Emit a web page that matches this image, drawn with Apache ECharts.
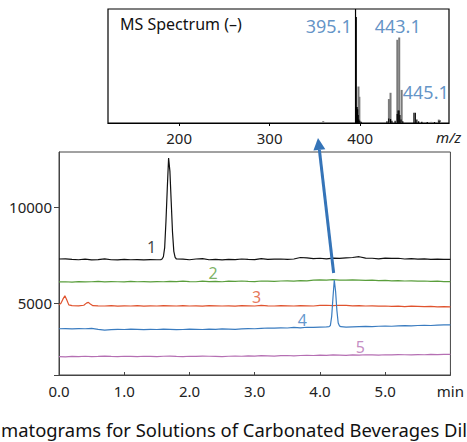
<!DOCTYPE html>
<html><head><meta charset="utf-8">
<script src="https://cdn.jsdelivr.net/npm/echarts@6/dist/echarts.min.js"></script>
<style>html,body{margin:0;padding:0;background:#fff}#c{width:467px;height:442px}</style>
</head><body><div id="c"></div>
<script>
const FONT = '"Noto Sans", sans-serif';

// ---- MS spectrum (inset) ----
const mzTicks = [200, 300, 400];
const msGray = [[200,0.8],[300,0.8],[358.7,1.6],[397.6,32],[398.6,23],[431.2,21],[433.0,26.5],[440.5,73],[442.6,75],[445.3,29],[478,1],[486.3,3],[487.6,2.5]];
const msBlack = [[394.8,100],[395.6,93],[396.0,14],[396.5,14],[397.1,12],[397.7,7],[398.4,3],[399.5,2],[401,1.2],[429.5,1.5],[431.5,4],[433.5,3.5],[435,2],[438.5,2],[440.8,8],[441.8,11],[442.8,11],[443.8,7],[445,3],[447,1.5],[459.3,9],[460.8,9],[462.5,3],[464.5,1.5],[468,1],[474,0.8],[482,0.8],[487,2]];
const msPeakLabels = [
  {mz: 391.1, val: 85.5, text: '395.1', side: 'left'},
  {mz: 415.4, val: 85.5, text: '443.1', side: 'right'},
  {mz: 446.4, val: 27, text: '445.1', side: 'right'}
];

// ---- Chromatograms (main) ----
const timeTicks = [0, 1, 2, 3, 4, 5, 6];
const yTickValues = [5000, 10000];
const trace1 = [[0,7300],[0.1,7310],[0.2,7280],[0.3,7260],[0.4,7290],[0.5,7250],[0.6,7270],[0.7,7310],[0.8,7260],[0.9,7250],[1.0,7280],[1.1,7260],[1.2,7270],[1.3,7250],[1.4,7270],[1.5,7260],[1.56,7270],[1.58,7300],[1.6,7420],[1.62,7900],[1.64,9300],[1.66,11000],[1.68,12580],[1.70,11900],[1.72,10300],[1.74,8700],[1.76,7700],[1.78,7380],[1.8,7300],[1.9,7290],[2.0,7260],[2.1,7300],[2.2,7320],[2.3,7260],[2.4,7280],[2.5,7250],[2.6,7280],[2.7,7270],[2.8,7300],[2.9,7280],[3.0,7270],[3.1,7320],[3.2,7280],[3.3,7290],[3.4,7300],[3.5,7280],[3.6,7300],[3.7,7380],[3.8,7360],[3.9,7320],[4.0,7340],[4.1,7310],[4.2,7350],[4.3,7330],[4.4,7360],[4.5,7380],[4.6,7420],[4.7,7350],[4.8,7340],[4.9,7310],[5.0,7350],[5.1,7330],[5.2,7340],[5.3,7300],[5.4,7320],[5.5,7290],[5.6,7310],[5.7,7280],[5.8,7290],[5.9,7280],[6.0,7280]];
const trace2 = [[0,6100],[0.1,6110],[0.2,6090],[0.3,6120],[0.4,6100],[0.5,6110],[0.6,6130],[0.7,6100],[0.8,6120],[0.9,6110],[1.0,6100],[1.1,6130],[1.2,6110],[1.3,6120],[1.4,6100],[1.5,6120],[1.6,6110],[1.7,6130],[1.8,6120],[1.9,6140],[2.0,6120],[2.1,6110],[2.2,6140],[2.3,6120],[2.4,6130],[2.5,6110],[2.6,6140],[2.7,6130],[2.8,6150],[2.9,6130],[3.0,6120],[3.1,6150],[3.2,6140],[3.3,6130],[3.4,6150],[3.5,6160],[3.6,6140],[3.7,6170],[3.8,6160],[3.9,6190],[4.0,6210],[4.1,6200],[4.2,6220],[4.3,6200],[4.4,6190],[4.5,6210],[4.6,6200],[4.7,6180],[4.8,6190],[4.9,6170],[5.0,6180],[5.1,6160],[5.2,6170],[5.3,6150],[5.4,6160],[5.5,6140],[5.6,6150],[5.7,6130],[5.8,6140],[5.9,6120],[6.0,6120]];
const trace3 = [[0,4900],[0.03,4980],[0.06,5200],[0.09,5380],[0.12,5150],[0.15,4900],[0.2,4860],[0.3,4850],[0.38,4880],[0.42,4990],[0.45,5030],[0.48,4950],[0.52,4860],[0.6,4850],[0.7,4840],[0.8,4860],[0.9,4830],[1.0,4850],[1.1,4840],[1.2,4860],[1.3,4830],[1.4,4850],[1.5,4840],[1.6,4860],[1.7,4850],[1.8,4840],[1.9,4860],[2.0,4840],[2.1,4850],[2.2,4830],[2.3,4860],[2.4,4850],[2.5,4840],[2.6,4850],[2.7,4830],[2.8,4860],[2.9,4850],[3.0,4840],[3.1,4870],[3.2,4850],[3.3,4840],[3.4,4860],[3.5,4850],[3.6,4840],[3.7,4860],[3.8,4850],[3.9,4840],[4.0,4870],[4.1,4880],[4.2,4860],[4.3,4880],[4.4,4870],[4.5,4850],[4.6,4860],[4.7,4840],[4.8,4850],[4.9,4830],[5.0,4840],[5.1,4820],[5.2,4830],[5.3,4810],[5.4,4830],[5.5,4820],[5.6,4810],[5.7,4820],[5.8,4800],[5.9,4810],[6.0,4800]];
const trace4 = [[0,3650],[0.1,3660],[0.2,3640],[0.3,3660],[0.4,3650],[0.5,3670],[0.6,3620],[0.7,3580],[0.8,3600],[0.9,3620],[1.0,3610],[1.1,3630],[1.2,3620],[1.3,3600],[1.4,3620],[1.5,3610],[1.6,3630],[1.7,3620],[1.8,3600],[1.9,3610],[2.0,3630],[2.1,3620],[2.2,3610],[2.3,3630],[2.4,3620],[2.5,3640],[2.6,3630],[2.7,3620],[2.8,3640],[2.9,3660],[3.0,3650],[3.1,3670],[3.2,3690],[3.3,3680],[3.4,3700],[3.5,3690],[3.6,3720],[3.7,3700],[3.8,3730],[3.9,3720],[4.0,3740],[4.1,3750],[4.14,3760],[4.16,3820],[4.18,4300],[4.2,5300],[4.22,6200],[4.24,5600],[4.26,4600],[4.28,3950],[4.3,3800],[4.32,3760],[4.4,3740],[4.5,3750],[4.6,3760],[4.7,3770],[4.8,3760],[4.9,3780],[5.0,3790],[5.1,3780],[5.2,3800],[5.3,3810],[5.4,3800],[5.5,3820],[5.6,3830],[5.7,3820],[5.8,3840],[5.9,3850],[6.0,3850]];
const trace5 = [[0,2190],[0.1,2180],[0.2,2200],[0.3,2190],[0.4,2210],[0.5,2190],[0.6,2200],[0.7,2220],[0.8,2200],[0.9,2190],[1.0,2210],[1.1,2200],[1.2,2190],[1.3,2210],[1.4,2200],[1.5,2190],[1.6,2210],[1.7,2220],[1.8,2200],[1.9,2190],[2.0,2210],[2.1,2200],[2.2,2220],[2.3,2210],[2.4,2200],[2.5,2190],[2.6,2210],[2.7,2220],[2.8,2210],[2.9,2230],[3.0,2220],[3.1,2240],[3.2,2230],[3.3,2220],[3.4,2240],[3.5,2250],[3.6,2230],[3.7,2250],[3.8,2260],[3.9,2250],[4.0,2270],[4.1,2260],[4.2,2280],[4.3,2270],[4.4,2260],[4.5,2280],[4.6,2270],[4.7,2290],[4.8,2280],[4.9,2270],[5.0,2290],[5.1,2280],[5.2,2300],[5.3,2290],[5.4,2280],[5.5,2300],[5.6,2290],[5.7,2310],[5.8,2300],[5.9,2310],[6.0,2310]];
const traceNames = ['1', '2', '3', '4', '5'];
const traceColors = ['#111111', '#5a9e3c', '#e0532e', '#3a7cc0', '#b56fb3'];
const traceLabelPos = [[1.42, 7930], [2.36, 6570], [3.03, 5310], [3.73, 4110], [4.62, 2690]];
const caption = 'matograms for Solutions of Carbonated Beverages Dil';

const traces = [trace1, trace2, trace3, trace4, trace5];
const chart = echarts.init(document.getElementById('c'), null, {renderer: 'svg'});

const lineSeries = traces.map((d, i) => ({
  type: 'line', xAxisIndex: 1, yAxisIndex: 1, data: d, showSymbol: false, symbol: 'none',
  lineStyle: {color: traceColors[i], width: 1.2}, z: 3, animation: false
}));
const labelSeries = {
  type: 'scatter', xAxisIndex: 1, yAxisIndex: 1, symbolSize: 1,
  itemStyle: {color: 'rgba(0,0,0,0)'}, animation: false, z: 4,
  data: traceLabelPos.map((p, i) => ({
    value: p,
    label: {show: true, position: 'inside', formatter: traceNames[i], color: traceColors[i], fontSize: 16, fontFamily: FONT}
  }))
};

chart.setOption({
  animation: false,
  backgroundColor: '#fff',
  grid: [
    {left: 108, top: 9, width: 341, height: 114, show: true, borderColor: '#000', borderWidth: 1.2, backgroundColor: 'transparent'},
    {left: 59, top: 152, width: 392, height: 223, show: true, borderColor: '#444', borderWidth: 1, backgroundColor: 'transparent'}
  ],
  xAxis: [
    {type: 'value', gridIndex: 0, min: 121.5, max: 498,
      axisLine: {show: true, lineStyle: {color: '#000', width: 1.2}},
      axisTick: {show: true, customValues: mzTicks, length: 3, lineStyle: {color: '#000'}},
      axisLabel: {show: true, customValues: mzTicks, margin: 7, fontSize: 15, color: '#222', fontFamily: FONT},
      splitLine: {show: false}},
    {type: 'value', gridIndex: 1, min: 0, max: 6, interval: 1,
      axisLine: {show: true, onZero: false, lineStyle: {color: '#444', width: 1}},
      axisTick: {show: true, inside: true, length: 3, lineStyle: {color: '#444'}},
      axisLabel: {show: true, margin: 8, fontSize: 15, color: '#222', fontFamily: FONT,
        formatter: v => v === 6 ? 'min' : v.toFixed(1)},
      splitLine: {show: false}}
  ],
  yAxis: [
    {type: 'value', gridIndex: 0, min: 0, max: 100, show: false, splitLine: {show: false}},
    {type: 'value', gridIndex: 1, min: 1230, max: 12900,
      axisLine: {show: true, onZero: false, lineStyle: {color: '#444', width: 1}},
      axisTick: {show: true, customValues: [1230].concat(yTickValues), length: 5, lineStyle: {color: '#444'}},
      axisLabel: {show: true, customValues: yTickValues, margin: 7, fontSize: 15, color: '#222', fontFamily: FONT,
        formatter: v => String(Math.round(v))},
      splitLine: {show: false}}
  ],
  series: [
    {type: 'bar', xAxisIndex: 0, yAxisIndex: 0, data: msGray, barWidth: 2, barGap: '-100%',
      itemStyle: {color: '#7a7a7a'}, z: 2, animation: false},
    {type: 'bar', xAxisIndex: 0, yAxisIndex: 0, data: msBlack, barWidth: 1.2, barGap: '-100%',
      itemStyle: {color: '#000'}, z: 3, animation: false},
    {type: 'scatter', xAxisIndex: 0, yAxisIndex: 0, symbolSize: 1, itemStyle: {color: 'rgba(0,0,0,0)'}, z: 5,
      data: msPeakLabels.map(p => ({value: [p.mz, p.val],
        label: {show: true, position: p.side, distance: 0, formatter: p.text, color: '#3a78b8', fontSize: 18, fontFamily: FONT}}))}
  ].concat(lineSeries, [labelSeries])
});

// Arrow from the peak of trace 4 up to the inset spectrum
const S = chart.convertToPixel({gridIndex: 1}, [4.21, 6570]);
const T = [318, 138];
const dx = T[0] - S[0], dy = T[1] - S[1];
const L = Math.sqrt(dx * dx + dy * dy);
const ux = dx / L, uy = dy / L, nx = -uy, ny = ux;
const B = [T[0] - 12 * ux, T[1] - 12 * uy];
chart.setOption({
  graphic: [
    {type: 'text', left: 120, top: 16, style: {text: 'MS Spectrum (–)', fontSize: 16, fontFamily: FONT, fill: '#111'}},
    {type: 'text', left: 436, top: 129, style: {text: 'm/z', fontSize: 15, fontStyle: 'italic', fontFamily: FONT, fill: '#222'}},
    {type: 'text', left: 1, top: 420, style: {text: caption, fontSize: 18.4, fontFamily: FONT, fill: '#111'}},
    {type: 'line', shape: {x1: S[0], y1: S[1], x2: B[0], y2: B[1]}, style: {stroke: '#3574b8', lineWidth: 3}, z: 10},
    {type: 'polygon', shape: {points: [T, [B[0] + 6 * nx, B[1] + 6 * ny], [B[0] - 6 * nx, B[1] - 6 * ny]]}, style: {fill: '#3574b8'}, z: 10}
  ]
});
</script></body></html>
